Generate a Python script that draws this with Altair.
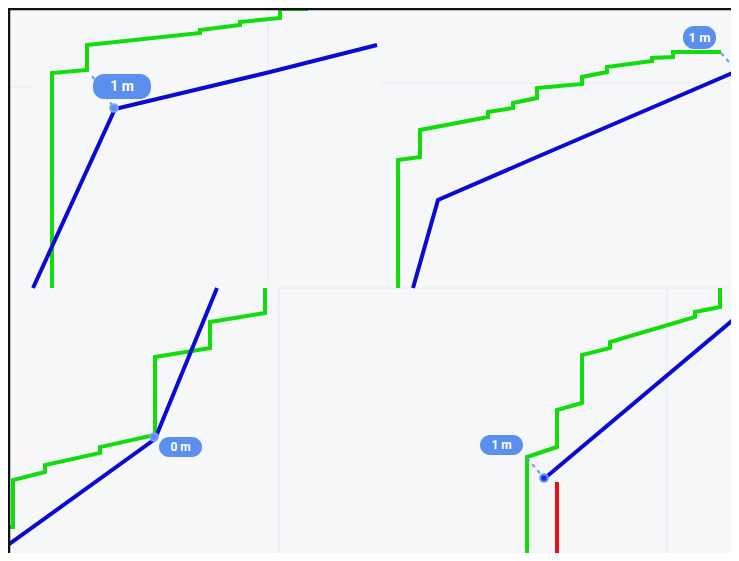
import altair as alt
import pandas as pd

# ---- values (image units: x to the right, y downward) ----
# top-left crop
tl_green_x = [52, 52, 87, 87, 200, 200, 240, 240, 280, 280, 306, 306]
tl_green_y = [288, 73, 70, 45, 33, 30, 25, 22, 18, 9, 9, 5]
tl_blue_x = [33, 115, 270, 377]
tl_blue_y = [288, 109, 72, 45]
tl_link_x = [92, 114]
tl_link_y = [76, 108]
# top-right crop
tr_green_x = [398, 398, 420, 420, 488, 488, 513, 513, 537, 537, 582, 582, 607, 607, 652, 652, 673, 673, 721]
tr_green_y = [288, 160, 157, 130, 117, 112, 108, 103, 98, 88, 84, 77, 72, 67, 61, 58, 57, 52, 52]
tr_blue_x = [413, 438, 530, 737]
tr_blue_y = [288, 200, 160, 71]
tr_link_x = [721, 736]
tr_link_y = [53, 70]
# bottom-left crop
bl_green_x = [265, 265, 210, 210, 155, 155, 100, 100, 45, 45, 13, 13, 8]
bl_green_y = [288, 313, 322, 348, 357, 435, 447, 453, 465, 472, 480, 527, 527]
bl_blue_x = [8, 155, 217]
bl_blue_y = [545, 439, 288]
# bottom-right crop
br_green_x = [527, 527, 557, 557, 582, 582, 610, 610, 695, 695, 720, 720]
br_green_y = [561, 457, 447, 410, 403, 355, 348, 342, 317, 312, 307, 288]
br_blue_x = [545, 739]
br_blue_y = [478, 315]
br_red_x = [557, 557, 554, 543]
br_red_y = [482, 555, 559, 561]
br_link_x = [527, 544]
br_link_y = [458, 478]

# labels (bubble boxes and text)
label_text = ["1 m", "1 m", "0 m", "1 m"]
label_x1 = [93, 683, 159, 480]
label_x2 = [151, 716, 202, 523]
label_y1 = [74, 26, 437, 435]
label_y2 = [99, 49, 457, 455]
label_size = [14, 13, 12, 12]

# marker dots
dot_x = [114, 737, 154, 544]
dot_y = [108, 71, 437, 478]
dot_kind = ["light", "light", "light", "dark"]

# faint grid lines of the cropped screenshots
vgrid_x = [268, 279, 667]
vgrid_y1 = [8, 288, 288]
vgrid_y2 = [287, 561, 561]
hgrid_y = [83, 87, 288]
hgrid_x1 = [380, 8, 279]
hgrid_x2 = [739, 30, 739]

# ---- tables ----
def series(name, kind, xs, ys):
    return pd.DataFrame({"id": name, "kind": kind, "i": range(len(xs)), "x": xs, "y": ys})

lines = pd.concat([
    series("tl_g", "green", tl_green_x, tl_green_y),
    series("tl_b", "blue", tl_blue_x, tl_blue_y),
    series("tr_g", "green", tr_green_x, tr_green_y),
    series("tr_b", "blue", tr_blue_x, tr_blue_y),
    series("bl_g", "green", bl_green_x, bl_green_y),
    series("bl_b", "blue", bl_blue_x, bl_blue_y),
    series("br_g", "green", br_green_x, br_green_y),
    series("br_b", "blue", br_blue_x, br_blue_y),
    series("br_r", "red", br_red_x, br_red_y),
])
links = pd.concat([
    series("tl_l", "link", tl_link_x, tl_link_y),
    series("tr_l", "link", tr_link_x, tr_link_y),
    series("br_l", "link", br_link_x, br_link_y),
])
labels = pd.DataFrame({"text": label_text, "x1": label_x1, "x2": label_x2,
                       "y1": label_y1, "y2": label_y2, "size": label_size})
labels["xc"] = (labels.x1 + labels.x2) / 2
labels["yc"] = (labels.y1 + labels.y2) / 2
dots = pd.DataFrame({"x": dot_x, "y": dot_y, "kind": dot_kind})
vgrid = pd.DataFrame({"x": vgrid_x, "y1": vgrid_y1, "y2": vgrid_y2})
hgrid = pd.DataFrame({"y": hgrid_y, "x1": hgrid_x1, "x2": hgrid_x2})
frame_v = pd.DataFrame({"x": [9], "y1": [8], "y2": [561]})
frame_h = pd.DataFrame({"y": [9], "x1": [8], "x2": [739]})

# the page keeps an 8px margin on every side, so the plot covers image area 8..731 x 8..553
xs = alt.Scale(domain=[8, 731], nice=False, zero=False)
ys = alt.Scale(domain=[8, 553], reverse=True, nice=False, zero=False)
X = lambda f: alt.X(f, scale=xs, axis=None)
Y = lambda f: alt.Y(f, scale=ys, axis=None)

grid_v = alt.Chart(vgrid).mark_rule(color="#e8eaee", strokeWidth=1, clip=True).encode(
    x=X("x:Q"), y=Y("y1:Q"), y2="y2:Q")
grid_h = alt.Chart(hgrid).mark_rule(color="#e8eaee", strokeWidth=1, clip=True).encode(
    y=Y("y:Q"), x=X("x1:Q"), x2="x2:Q")

line_layer = alt.Chart(lines).mark_line(strokeWidth=4, strokeJoin="miter", clip=True).encode(
    x=X("x:Q"), y=Y("y:Q"), detail="id:N", order="i:Q",
    color=alt.Color("kind:N", scale=alt.Scale(domain=["green", "blue", "red"],
                                              range=["#12dc0c", "#0a0ad0", "#e81010"]),
                    legend=None))

link_layer = alt.Chart(links).mark_line(strokeWidth=2, strokeDash=[4, 4], color="#6a9cf0", clip=True).encode(
    x=X("x:Q"), y=Y("y:Q"), detail="id:N", order="i:Q")

dot_layer = alt.Chart(dots).mark_point(filled=True, size=60, strokeWidth=2, clip=True).encode(
    x=X("x:Q"), y=Y("y:Q"),
    fill=alt.Fill("kind:N", scale=alt.Scale(domain=["light", "dark"], range=["#5b8ef0", "#1530d8"]), legend=None),
    stroke=alt.Stroke("kind:N", scale=alt.Scale(domain=["light", "dark"], range=["#7aa6f3", "#6f9cf2"]), legend=None),
    opacity=alt.value(1))

bubble = alt.Chart(labels).mark_rect(color="#5b8fee", cornerRadius=11).encode(
    x=X("x1:Q"), x2="x2:Q", y=Y("y1:Q"), y2="y2:Q")
bubble_text = alt.Chart(labels).mark_text(color="white", font="Roboto", fontWeight="bold",
                                          align="center", baseline="middle").encode(
    x=X("xc:Q"), y=Y("yc:Q"), text="text:N", size=alt.Size("size:Q", scale=None, legend=None))

border_v = alt.Chart(frame_v).mark_rule(color="#111111", strokeWidth=2.5, clip=True).encode(
    x=X("x:Q"), y=Y("y1:Q"), y2="y2:Q")
border_h = alt.Chart(frame_h).mark_rule(color="#111111", strokeWidth=2.5, clip=True).encode(
    y=Y("y:Q"), x=X("x1:Q"), x2="x2:Q")

chart = alt.layer(
    grid_v, grid_h, line_layer, link_layer, dot_layer, bubble, bubble_text, border_v, border_h
).properties(
    width=723, height=545, padding=0, background="white"
).configure_view(
    fill="#f6f7f9", strokeWidth=0
)

chart.save("out.html", embed_options={"renderer": "svg", "actions": False})
